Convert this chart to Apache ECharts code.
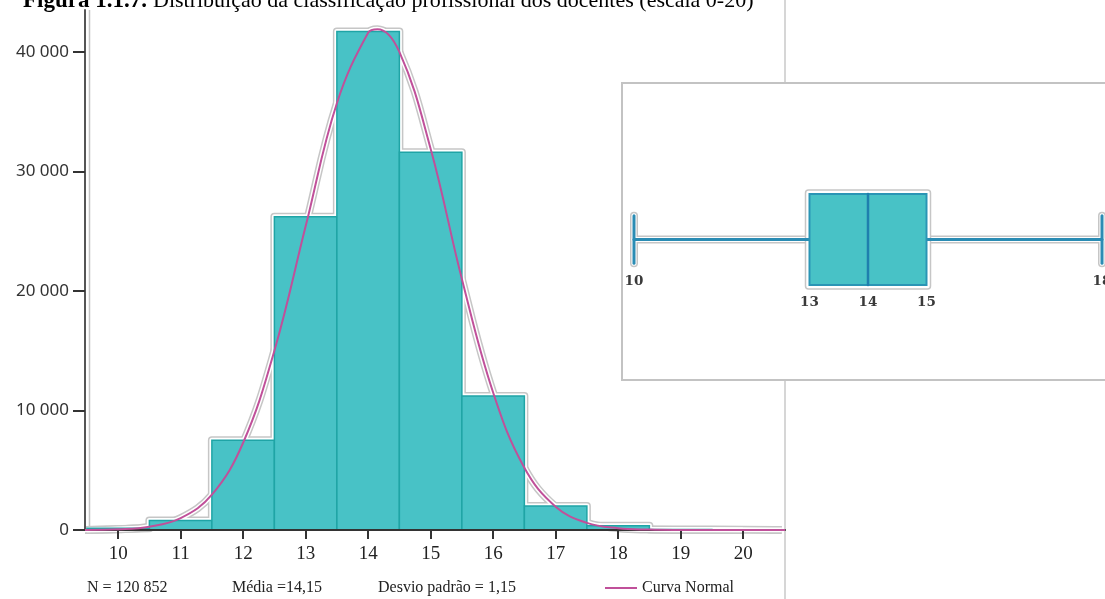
<!DOCTYPE html>
<html><head><meta charset="utf-8">
<script src="https://cdn.jsdelivr.net/npm/echarts@6/dist/echarts.min.js"></script>
<style>html,body{margin:0;padding:0;background:#fff;overflow:hidden}#c{width:1105px;height:599px}</style>
</head><body><div id="c"></div>
<script>
// ---- data ----
const binCenters = [10, 11, 12, 13, 14, 15, 16, 17, 18, 19, 20];
const binCounts  = [150, 800, 7500, 26200, 41700, 31600, 11200, 2000, 350, 40, 10];
const curveX = [9.47, 10, 10.5, 11, 11.5, 12, 12.5, 13, 13.5, 14, 14.15, 14.5, 15, 15.5, 16, 16.5, 17, 17.5, 18, 18.5, 19, 19.5, 20, 20.67];
const curveY = [10, 60, 270, 990, 2950, 7300, 15000, 25400, 35700, 41600, 41900, 40000, 31900, 21000, 11500, 5200, 1950, 600, 150, 35, 5, 0, 0, 0];
const xTicks = [10, 11, 12, 13, 14, 15, 16, 17, 18, 19, 20];
const yTicks = [0, 10000, 20000, 30000, 40000];
const boxStats = [10, 13, 14, 15, 18];
const boxLabels = ['10', '13', '14', '15', '18'];
const footerTexts = ['N = 120 852', 'Média =14,15', 'Desvio padrão = 1,15'];
const legendLabel = 'Curva Normal';
const titleBold = 'Figura 1.1.7.';
const titleRest = 'Distribuição da classificação profissional dos docentes (escala 0-20)';

// derived
const stepPts = [[binCenters[0] - 0.5, 0]];
binCenters.forEach((c, i) => { stepPts.push([c - 0.5, binCounts[i]]); stepPts.push([c + 0.5, binCounts[i]]); });
stepPts.push([binCenters[binCenters.length - 1] + 0.5, 0]);
stepPts.push([20.62, 0]);
const curvePts = curveX.map((x, i) => [x, curveY[i]]);
const haloCurvePts = curvePts.filter(p => p[0] < 20.65);
const barData = binCenters.map((c, i) => [c, binCounts[i]]);

const TEAL = '#48c2c6', TEAL_EDGE = '#1fa4a6', PINK = '#c0509a', HALO = '#c6c6c6', BLUE = '#2a8cb4';
const SERIF = '"Liberation Serif", "Times New Roman", serif';

const chart = echarts.init(document.getElementById('c'), null, {renderer: 'canvas'});

function haloLine(data, color, width, z, smooth) {
  return {type: 'line', data, xAxisIndex: 0, yAxisIndex: 0, showSymbol: false, silent: true, smooth: smooth || false,
    z, lineStyle: {color, width, cap: 'butt', join: 'round'}, legendHoverLink: false, animation: false};
}

const option = {
  animation: false,
  backgroundColor: '#fff',
  grid: [
    {left: 85, right: 320, top: 10, bottom: 69},
    {left: 634, width: 468, top: 194, height: 91}
  ],
  xAxis: [
    {type: 'value', gridIndex: 0, min: 9.47, max: 20.67, z: 10,
      axisLine: {show: true, onZero: false, lineStyle: {color: '#333', width: 2}},
      axisTick: {show: true, length: 9, customValues: xTicks, lineStyle: {color: '#333', width: 2}},
      axisLabel: {customValues: xTicks, margin: 15, color: '#222', fontFamily: SERIF, fontSize: 19},
      splitLine: {show: false}},
    {type: 'value', gridIndex: 1, min: 10, max: 18, show: false}
  ],
  yAxis: [
    {type: 'value', gridIndex: 0, min: 0, max: 43500, z: 10,
      axisLine: {show: true, lineStyle: {color: '#555', width: 2}},
      axisTick: {show: true, length: 12, customValues: yTicks, lineStyle: {color: '#333', width: 2}},
      axisLabel: {customValues: yTicks, margin: 16, color: '#333', fontFamily: '"Noto Sans", sans-serif', fontSize: 17,
        formatter: v => v === 0 ? '0' : (v / 1000) + ' 000'},
      splitLine: {show: false}},
    {type: 'value', gridIndex: 1, min: 0, max: 1, show: false}
  ],
  legend: {
    data: [legendLabel], left: 605, top: 580, padding: 0, itemWidth: 32, itemHeight: 2, icon: 'rect',
    textStyle: {fontFamily: SERIF, fontSize: 16, color: '#222'}, selectedMode: false
  },
  graphic: [
    {type: 'line', z: -10, shape: {x1: 785, y1: 0, x2: 785, y2: 599}, style: {stroke: '#c8c8c8', lineWidth: 1.5}},
    {type: 'line', z: -10, shape: {x1: 89.5, y1: 10, x2: 89.5, y2: 527}, style: {stroke: '#c4c4c4', lineWidth: 1.5}},
    {type: 'rect', z: -5, shape: {x: 622, y: 83, width: 520, height: 297}, style: {stroke: '#c3c3c3', lineWidth: 2, fill: '#fff'}},
    {type: 'text', z: 50, style: {text: titleBold, x: 147, y: 1, align: 'right', verticalAlign: 'middle',
      fontFamily: SERIF, fontSize: 23, fontWeight: 'bold', fill: '#000'}},
    {type: 'text', z: 50, style: {text: titleRest, x: 153, y: 1, align: 'left', verticalAlign: 'middle',
      fontFamily: SERIF, fontSize: 22, fill: '#000'}},
    {type: 'text', z: 50, style: {text: footerTexts[0], x: 87, y: 588, verticalAlign: 'middle', fontFamily: SERIF, fontSize: 16, fill: '#222'}},
    {type: 'text', z: 50, style: {text: footerTexts[1], x: 232, y: 588, verticalAlign: 'middle', fontFamily: SERIF, fontSize: 16, fill: '#222'}},
    {type: 'text', z: 50, style: {text: footerTexts[2], x: 378, y: 588, verticalAlign: 'middle', fontFamily: SERIF, fontSize: 16, fill: '#222'}}
  ],
  series: [
    haloLine(stepPts, HALO, 8, 2),
    haloLine(haloCurvePts, HALO, 8, 2, 0.4),
    haloLine(stepPts, '#fff', 5, 3),
    haloLine(haloCurvePts, '#fff', 5, 3, 0.4),
    {
      type: 'custom', name: 'hist', xAxisIndex: 0, yAxisIndex: 0, z: 4, silent: true,
      data: barData,
      renderItem(params, api) {
        const c = api.value(0), v = api.value(1);
        const p0 = api.coord([c - 0.5, v]);
        const p1 = api.coord([c + 0.5, 0]);
        return {type: 'rect', shape: {x: p0[0], y: p0[1], width: p1[0] - p0[0], height: p1[1] - p0[1]},
          style: {fill: TEAL, stroke: TEAL_EDGE, lineWidth: 1.5}};
      }
    },
    {
      type: 'line', name: legendLabel, data: curvePts, xAxisIndex: 0, yAxisIndex: 0, z: 12, smooth: 0.4,
      showSymbol: false, silent: true, lineStyle: {color: PINK, width: 2}, itemStyle: {color: PINK}
    },
    {
      type: 'custom', name: 'box', xAxisIndex: 1, yAxisIndex: 1, z: 20, silent: true,
      data: [boxStats],
      renderItem(params, api) {
        const cs = params.coordSys;
        const top = cs.y, h = cs.height, cy = cs.y + cs.height / 2;
        const capHalf = h * 0.26;
        const X = i => api.coord([api.value(i), 0.5])[0];
        const xs = [X(0), X(1), X(2), X(3), X(4)];
        const kids = [];
        const seg = (x1, y1, x2, y2, stroke, w) => ({type: 'line', shape: {x1, y1, x2, y2},
          style: {stroke, lineWidth: w, lineCap: 'round'}});
        // halos
        [[HALO, 8], ['#fff', 5]].forEach(([col, w]) => {
          kids.push(seg(xs[0], cy, xs[1], cy, col, w));
          kids.push(seg(xs[3], cy, xs[4], cy, col, w));
          kids.push(seg(xs[0], cy - capHalf, xs[0], cy + capHalf, col, w));
          kids.push(seg(xs[4], cy - capHalf, xs[4], cy + capHalf, col, w));
        });
        kids.push({type: 'rect', shape: {x: xs[1] - 4, y: top - 4, width: xs[3] - xs[1] + 8, height: h + 8, r: 3},
          style: {fill: '#fff', stroke: HALO, lineWidth: 1.5}});
        // whiskers
        kids.push(seg(xs[0], cy, xs[1], cy, BLUE, 3));
        kids.push(seg(xs[3], cy, xs[4], cy, BLUE, 3));
        kids.push(seg(xs[0], cy - capHalf, xs[0], cy + capHalf, BLUE, 3));
        kids.push(seg(xs[4], cy - capHalf, xs[4], cy + capHalf, BLUE, 3));
        // box
        kids.push({type: 'rect', shape: {x: xs[1], y: top, width: xs[3] - xs[1], height: h},
          style: {fill: TEAL, stroke: '#2a95b5', lineWidth: 2}});
        kids.push(seg(xs[2], top, xs[2], top + h, '#1f7fae', 2.5));
        // labels
        const lab = (i, y) => ({type: 'text', style: {text: boxLabels[i], x: xs[i], y, align: 'center', verticalAlign: 'middle',
          fontFamily: '"DejaVu Serif", serif', fontSize: 13.5, fontWeight: 'bold', fill: '#3a3a3a'}});
        kids.push(lab(0, cy + capHalf + 18));
        kids.push(lab(4, cy + capHalf + 18));
        kids.push(lab(1, top + h + 17));
        kids.push(lab(2, top + h + 17));
        kids.push(lab(3, top + h + 17));
        return {type: 'group', children: kids};
      }
    }
  ]
};
chart.setOption(option);
</script>
</body></html>
